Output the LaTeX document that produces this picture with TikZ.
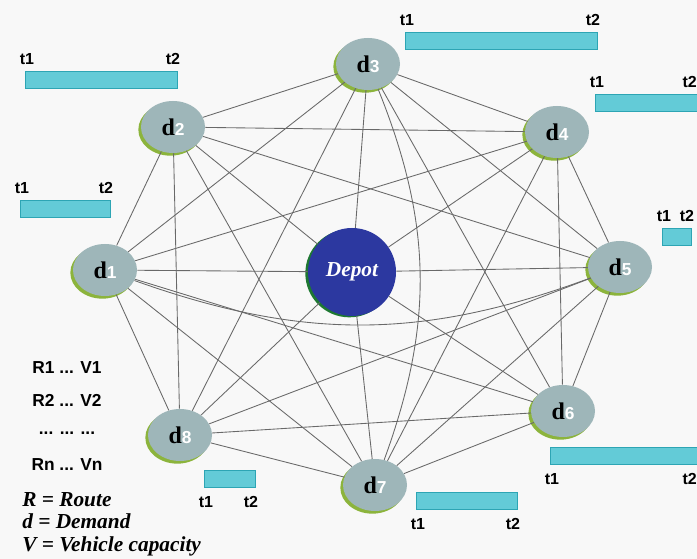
\documentclass[tikz,border=0pt]{standalone}
\usepackage{fontspec}
\setmainfont{Liberation Serif}
\setsansfont{Liberation Sans}
\usetikzlibrary{shapes,shadows}
\definecolor{demgray}{RGB}{158,182,185}
\definecolor{demrim}{RGB}{140,180,60}
\definecolor{depblue}{RGB}{44,56,160}
\definecolor{deprim}{RGB}{30,120,50}
\definecolor{barcyan}{RGB}{99,203,215}
\definecolor{barrim}{RGB}{45,165,180}
\definecolor{linkgray}{RGB}{105,105,105}
\definecolor{bgcol}{RGB}{248,248,248}
\newcommand{\dlab}[1]{{\fontsize{18}{18}\selectfont\bfseries d}{\fontsize{13}{13}\selectfont\sffamily\bfseries\color{white}#1}}

\begin{document}
\begin{tikzpicture}[x=0.75pt,y=-0.75pt]
	\tikzstyle{dem}=[ellipse, fill=demgray, minimum width=48pt, minimum height=39pt, inner sep=0pt, drop shadow={shadow xshift=-2pt, shadow yshift=-2pt, fill=demrim, opacity=1}]
	\tikzstyle{depot}=[circle, fill=depblue, minimum size=66pt, inner sep=0pt, text=white, font=\fontsize{16}{16}\selectfont\bfseries\itshape, drop shadow={shadow xshift=-2pt, shadow yshift=-1pt, fill=deprim, opacity=1}]
	\tikzstyle{link}=[draw=linkgray, line width=0.65pt]
	\tikzstyle{bar}=[fill=barcyan, draw=barrim, line width=0.6pt]
	\tikzstyle{tlab}=[inner sep=0pt, font=\fontsize{12}{12}\selectfont\sffamily\bfseries]
	\tikzstyle{legend}=[inner sep=0pt, font=\fontsize{13}{13}\selectfont\sffamily\bfseries]
	\tikzstyle{key}=[inner sep=0pt, anchor=base west, font=\fontsize{16}{16}\selectfont\bfseries\itshape]
	\fill[bgcol] (0,0) rectangle (697,559);
	\useasboundingbox (0,0) rectangle (697,559);
	\node[depot] (dep) at (352,272) {Depot};
	\node[dem] (d1) at (105,270) {\dlab{1}};
	\node[dem] (d2) at (173,127) {\dlab{2}};
	\node[dem] (d3) at (368,64) {\dlab{3}};
	\node[dem] (d4) at (557,132) {\dlab{4}};
	\node[dem] (d5) at (620,267) {\dlab{5}};
	\node[dem] (d6) at (563,411) {\dlab{6}};
	\node[dem] (d7) at (375,485) {\dlab{7}};
	\node[dem] (d8) at (180,435) {\dlab{8}};
	\foreach \i in {1,...,8}
		\draw[link] (dep) -- (d\i);
	\foreach \i in {1,...,7} {
		\pgfmathtruncatemacro\nxt{\i+1}
		\foreach \j in {\nxt,...,8} {
			\pgfmathtruncatemacro\gap{\j-\i}
			\ifnum\gap=4 \else \draw[link] (d\i) -- (d\j); \fi
		}
	}
	\draw[link] (d1) to[bend right=20] (d5);
	\draw[link] (d3) to[bend left=21] (d7);
	\foreach \b/\l/\t/\r in {b1/20/200/110, b2/25/71/177, b3/405/32/597, b5/662/228/691} {
		\draw[bar] (\l,\t) rectangle (\r,\t+17);
		\node[tlab, anchor=base] (\b s) at (\l+2,\t-6) {t1};
		\node[tlab, anchor=base] (\b e) at (\r-4,\t-6) {t2};
	}
	\foreach \b/\l/\t/\r in {b7/416/492/517, b8/204/470/255} {
		\draw[bar] (\l,\t) rectangle (\r,\t+17);
		\node[tlab, anchor=base] (\b s) at (\l+2,\t+38) {t1};
		\node[tlab, anchor=base] (\b e) at (\r-4,\t+38) {t2};
	}
	\draw[bar] (595,94) rectangle (703,111);
	\node[tlab, anchor=base] (b4s) at (597,88) {t1};
	\node[tlab, anchor=base east] (b4e) at (697,88) {t2};
	\draw[bar] (550,447) rectangle (703,464);
	\node[tlab, anchor=base] (b6s) at (552,485) {t1};
	\node[tlab, anchor=base east] (b6e) at (697,485) {t2};
	\node[legend] (r1) at (67,368) {R1 ... V1};
	\node[legend] (r2) at (67,400) {R2 ... V2};
	\node[legend] (rd) at (67,433) {... ... ...};
	\node[legend] (rn) at (67,465) {Rn ... Vn};
	\node[key] (kr) at (22,507) {R = Route};
	\node[key] (kd) at (22,529) {d = Demand};
	\node[key] (kv) at (22,552) {V = Vehicle capacity};
\end{tikzpicture}
\end{document}
